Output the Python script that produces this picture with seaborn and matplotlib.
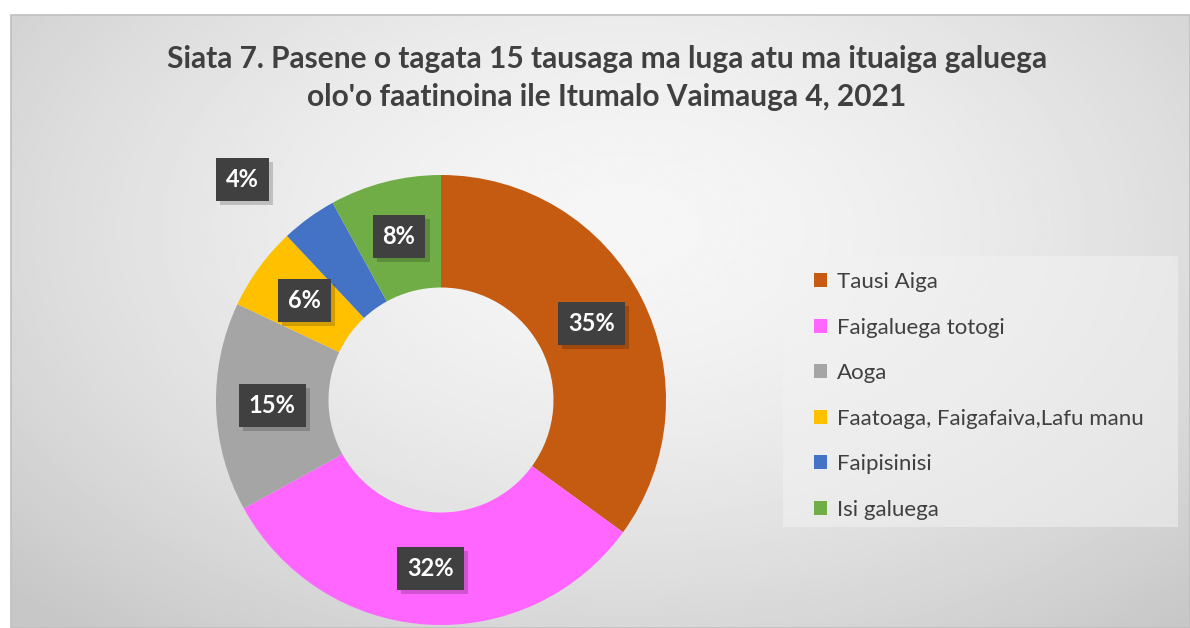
import numpy as np
import matplotlib
matplotlib.use("Agg")
import matplotlib.pyplot as plt
import matplotlib.patheffects as pe
from matplotlib.patches import Patch, Rectangle
import seaborn as sns

# data
categories = ["Tausi Aiga", "Faigaluega totogi", "Aoga",
              "Faatoaga, Faigafaiva,Lafu manu", "Faipisinisi", "Isi galuega"]
shares = [35, 32, 15, 6, 4, 8]
colors = ["#C55A11", "#FF66FF", "#A5A5A5", "#FFC000", "#4472C4", "#70AD47"]
title = ("Siata 7. Pasene o tagata 15 tausaga ma luga atu ma ituaiga galuega\n"
         "olo'o faatinoina ile Itumalo Vaimauga 4, 2021")

sns.set_style("white")
plt.rcParams["font.family"] = ["Lato", "DejaVu Sans"]

W, H = 1190, 628
fig = plt.figure(figsize=(W / 100, H / 100), dpi=100)

# chart area background: soft radial gradient
bg = fig.add_axes([11 / W, 0, 1 - 11 / W, 1 - 15 / H])
yy, xx = np.mgrid[0:1:300j, 0:1:600j]
r = np.sqrt(((xx - 0.52) / 0.75) ** 2 + ((yy - 0.35) / 0.9) ** 2)
grad = np.clip(0.965 - 0.2 * r ** 1.6, 0.78, 1)
bg.imshow(grad, cmap="gray", vmin=0, vmax=1, aspect="auto",
          extent=[0, 1, 1, 0], interpolation="bilinear")
bg.set_xlim(0, 1)
bg.set_ylim(1, 0)
bg.axis("off")
fig.patches.append(Rectangle((11 / W, 0), 1 - 11 / W, 1 - 15 / H,
                             transform=fig.transFigure, fill=False,
                             edgecolor="#BFBFBF", lw=1.2))

# legend panel
fig.patches.append(Rectangle((783 / W, 1 - 527 / H), 395 / W, 271 / H,
                             transform=fig.transFigure, facecolor="#F2F2F2",
                             alpha=0.55, edgecolor="none"))

# donut
ax = fig.add_axes([216 / W, 3 / H, 450 / W, 450 / H])
pal = sns.color_palette(colors)
wedges, texts, autotexts = ax.pie(
    shares, colors=pal, startangle=90, counterclock=False,
    radius=1, autopct="%1.0f%%", pctdistance=0.75,
    wedgeprops=dict(width=0.5, edgecolor="none"))
ax.set_xlim(-1, 1)
ax.set_ylim(-1, 1)
ax.set_aspect("equal")

# move small slice label outward
w4 = wedges[4]
mid = np.deg2rad((w4.theta1 + w4.theta2) / 2 + 6)
autotexts[4].set_position((1.32 * np.cos(mid), 1.32 * np.sin(mid)))

for t in autotexts:
    t.set_fontsize(17)
    t.set_fontweight("bold")
    t.set_color("white")
    t.set_zorder(5)
    t.set_bbox(dict(boxstyle="square,pad=0.42", facecolor="#404040",
                    edgecolor="none"))
    t.get_bbox_patch().set_path_effects(
        [pe.SimplePatchShadow(offset=(3, -3), shadow_rgbFace="black", alpha=0.18),
         pe.Normal()])

fig.text(607 / W, 1 - 78 / H, title, ha="center", va="center",
         fontsize=21.5, fontweight="bold", color="#404040", linespacing=1.42)

handles = [Patch(facecolor=c, edgecolor="none") for c in pal]
fig.legend(handles, categories, loc="upper left",
           bbox_to_anchor=(794 / W, 1 - 252 / H), frameon=False,
           fontsize=16, labelcolor="#404040", handlelength=0.6,
           handleheight=0.6, handletextpad=0.45, labelspacing=1.15)

fig.savefig("out.png", dpi=100, facecolor="white")
